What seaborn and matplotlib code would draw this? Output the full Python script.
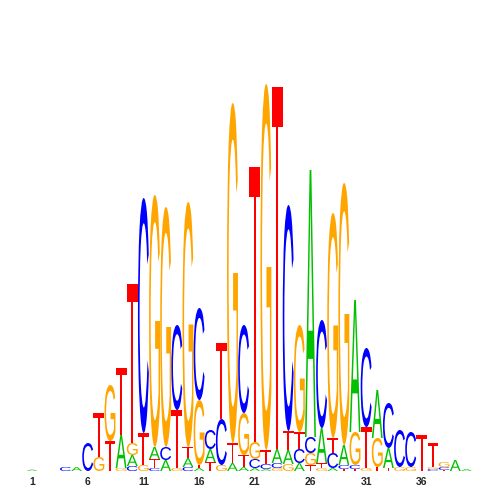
import numpy as np
import matplotlib
matplotlib.use("Agg")
import matplotlib.pyplot as plt
import seaborn as sns
from matplotlib.textpath import TextPath
from matplotlib.font_manager import FontProperties
from matplotlib.patches import PathPatch
from matplotlib.transforms import Affine2D

# positions 1..40 ; information content per base (bits)
positions = list(range(1, 41))
A = [0.0075, 0, 0, 0, 0.02, 0, 0, 0, 0.165, 0.055,
     0, 0.06, 0.055, 0, 0.045, 0.015, 0.065, 0, 0.04, 0.02,
     0.015, 0.01, 0.07, 0.07, 0.04, 1.335, 0.175, 0.015, 0.10, 0.66,
     0, 0.24, 0.10, 0, 0, 0, 0, 0, 0.055, 0.01]
C = [0, 0, 0, 0.02, 0, 0.14, 0, 0, 0, 0.025,
     1.175, 0.015, 0.065, 0.425, 0.02, 0.46, 0.095, 0.23, 0, 0.44,
     0.045, 0.025, 0.025, 1.13, 0.07, 0.08, 0.54, 0.075, 0.02, 0.02,
     0.395, 0, 0.225, 0.185, 0.175, 0, 0.01, 0.015, 0, 0]
G = [0, 0, 0, 0, 0, 0, 0.07, 0.28, 0.015, 0.06,
     0.03, 1.26, 1.20, 0.015, 1.225, 0.325, 0, 0.03, 1.70, 0.21,
     0.085, 1.83, 0.015, 0.035, 0.535, 0.06, 0.015, 1.125, 1.31, 0.165,
     0.015, 0.145, 0, 0.02, 0.02, 0, 0.01, 0.025, 0, 0]
T = [0, 0, 0, 0, 0, 0, 0.22, 0.15, 0.335, 0.795,
     0.16, 0.045, 0, 0.29, 0.055, 0.015, 0.045, 0.38, 0.10, 0.06,
     1.375, 0.07, 1.81, 0.095, 0.085, 0.03, 0.025, 0.075, 0.01, 0.01,
     0.205, 0.02, 0.015, 0, 0, 0.18, 0.12, 0.005, 0, 0]
tick_positions = [1, 6, 11, 16, 21, 26, 31, 36]

colors = {"A": "#00C000", "C": "#0000FF", "G": "#FFA500", "T": "#FF0000"}

sns.set_theme(style="white")
plt.rcParams["font.family"] = ["Liberation Sans", "DejaVu Sans"]

fig = plt.figure(figsize=(5, 5), dpi=100)
ax = fig.add_axes([0.0529, 0.058, 0.891, 0.8])

fp = FontProperties(family="Liberation Sans")
glyphs = {}
for L in "ACGT":
    p = TextPath((0, 0), L, size=1, prop=fp)
    glyphs[L] = (p, p.get_extents())

width = 0.98
for i, pos in enumerate(positions):
    vals = [("A", A[i]), ("C", C[i]), ("G", G[i]), ("T", T[i])]
    vals = sorted(vals, key=lambda t: t[1])
    y0 = 0.0
    for L, h in vals:
        if h <= 0:
            continue
        path, ext = glyphs[L]
        tr = (Affine2D()
              .translate(-ext.x0, -ext.y0)
              .scale(width / ext.width, h / ext.height)
              .translate(pos - width / 2, y0))
        patch = PathPatch(tr.transform_path(path), facecolor=colors[L],
                          edgecolor="none", lw=0)
        ax.add_patch(patch)
        y0 += h

ax.set_xlim(0.5, 40.5)
ax.set_ylim(0, 2)
ax.set_xticks(tick_positions)
ax.set_xticklabels([str(t) for t in tick_positions], fontsize=7.5,
                   fontweight="bold", family="Liberation Sans")
ax.set_yticks([])
ax.tick_params(axis="x", length=0, pad=4.5)
sns.despine(ax=ax, left=True, bottom=True)
ax.set_facecolor("white")
fig.savefig("out.png", dpi=100, facecolor="white")
